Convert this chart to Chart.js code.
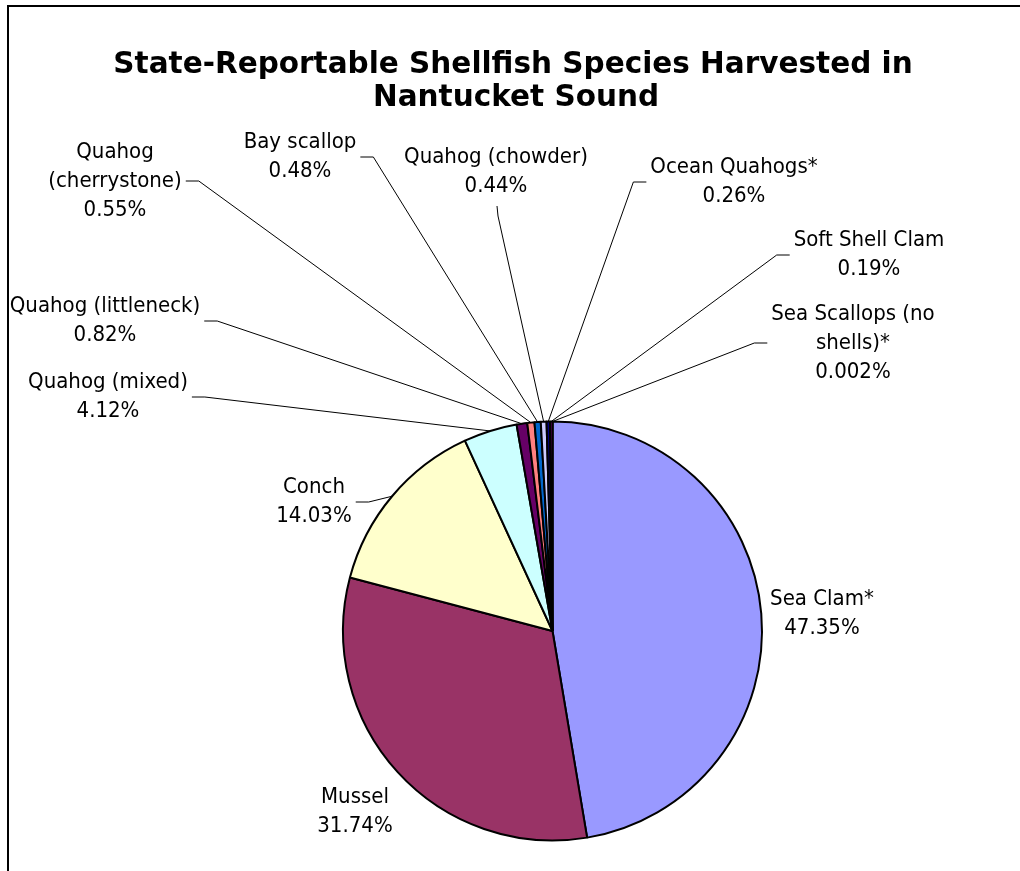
<!DOCTYPE html>
<html>
<head>
<meta charset="utf-8">
<script src="https://cdn.jsdelivr.net/npm/chart.js@4.4.0/dist/chart.umd.min.js"></script>
<style>
    html, body { margin: 0; padding: 0; background: #ffffff; }
    #wrap { width: 1020px; height: 871px; position: relative; }
</style>
</head>
<body>
<div id="wrap"><canvas id="chart-shellfish"></canvas></div>
<script>
// =========================================
// DATA
// =========================================
const titleLines = ['State-Reportable Shellfish Species Harvested in', 'Nantucket Sound'];

const categories = [
    'Sea Clam*', 'Mussel', 'Conch', 'Quahog (mixed)', 'Quahog (littleneck)',
    'Quahog (cherrystone)', 'Bay scallop', 'Quahog (chowder)', 'Ocean Quahogs*',
    'Soft Shell Clam', 'Sea Scallops (no shells)*'
];
const shares = [47.35, 31.74, 14.03, 4.12, 0.82, 0.55, 0.48, 0.44, 0.26, 0.19, 0.002];

// how each category name wraps in its label
const labelLines = [
    ['Sea Clam*'], ['Mussel'], ['Conch'], ['Quahog (mixed)'], ['Quahog (littleneck)'],
    ['Quahog', '(cherrystone)'], ['Bay scallop'], ['Quahog (chowder)'], ['Ocean Quahogs*'],
    ['Soft Shell Clam'], ['Sea Scallops (no', 'shells)*']
];

// Excel 2003 default fills
const sliceColors = ['#9999FF', '#993366', '#FFFFCC', '#CCFFFF', '#660066', '#FF8080',
                     '#0066CC', '#CCCCFF', '#000080', '#FF00FF', '#FFFF00'];

// label block centre + side the leader leaves from (moved by hand, like in Excel)
const labelAt = [
    [822, 614, 'none'], [355, 812, 'none'], [314, 502, 'right'], [108, 397, 'right'],
    [105, 321, 'right'], [115, 181, 'right'], [300, 157, 'right'], [496, 172, 'bottom'],
    [734, 182, 'left'], [869, 255, 'left'], [853, 343, 'left']
];

const LABEL_FONT = '22px "DejaVu Sans Condensed", "DejaVu Sans", sans-serif';
const LINE_H = 29;

// =========================================
// PLUGIN: frame, title, data labels + leaders
// =========================================
const excelDecor = {
    id: 'excelDecor',
    afterDraw(chart) {
        const ctx = chart.ctx;
        ctx.save();

        // chart frame (right and bottom are off-screen)
        ctx.strokeStyle = '#000';
        ctx.lineWidth = 2;
        ctx.beginPath();
        ctx.moveTo(8, 880);
        ctx.lineTo(8, 6);
        ctx.lineTo(1030, 6);
        ctx.stroke();

        // title
        ctx.fillStyle = '#000';
        ctx.font = 'bold 29.5px "DejaVu Sans", sans-serif';
        ctx.textAlign = 'center';
        ctx.textBaseline = 'alphabetic';
        ctx.fillText(titleLines[0], 513, 73);
        ctx.fillText(titleLines[1], 516, 106);

        // data labels
        const arcs = chart.getDatasetMeta(0).data;
        ctx.font = LABEL_FONT;
        ctx.textBaseline = 'middle';
        arcs.forEach(function(arc, i) {
            const lines = labelLines[i].concat([String(shares[i]) + '%']);
            const [cx, cy, side] = labelAt[i];
            const top = cy - (lines.length - 1) * LINE_H / 2;
            let maxW = 0;
            lines.forEach(function(t, k) {
                maxW = Math.max(maxW, ctx.measureText(t).width);
                ctx.fillText(t, cx, top + k * LINE_H);
            });

            if (side === 'none') return;
            const p = arc.getProps(['x', 'y', 'startAngle', 'endAngle', 'outerRadius'], true);
            const mid = (p.startAngle + p.endAngle) / 2;
            const ex = p.x + Math.cos(mid) * p.outerRadius;
            const ey = p.y + Math.sin(mid) * p.outerRadius;

            let ax, ay, bx, by;
            if (side === 'right') {
                ax = cx + maxW / 2 + 4; ay = cy; bx = ax + 13; by = ay;
            } else if (side === 'left') {
                ax = cx - maxW / 2 - 4; ay = cy; bx = ax - 13; by = ay;
            } else {
                ax = cx + 1; ay = cy + lines.length * LINE_H / 2 + 5; bx = ax + 1; by = ay + 10;
            }
            ctx.strokeStyle = '#000';
            ctx.lineWidth = 1;
            ctx.beginPath();
            ctx.moveTo(ax, ay);
            ctx.lineTo(bx, by);
            ctx.lineTo(ex, ey);
            ctx.stroke();
        });
        ctx.restore();
    }
};

// =========================================
// CHART
// =========================================
function initShellfishPie() {
    const el = document.getElementById('chart-shellfish');
    if (!el) return;
    new Chart(el.getContext('2d'), {
        type: 'pie',
        data: {
            labels: categories,
            datasets: [{
                data: shares,
                backgroundColor: sliceColors,
                borderColor: '#000000',
                borderWidth: 2
            }]
        },
        options: {
            responsive: true,
            maintainAspectRatio: false,
            animation: false,
            events: [],
            layout: { padding: { left: 342, right: 257, top: 420, bottom: 29 } },
            plugins: {
                legend: { display: false },
                title: { display: false },
                tooltip: { enabled: false }
            }
        },
        plugins: [excelDecor]
    });
}

initShellfishPie();
</script>
</body>
</html>
